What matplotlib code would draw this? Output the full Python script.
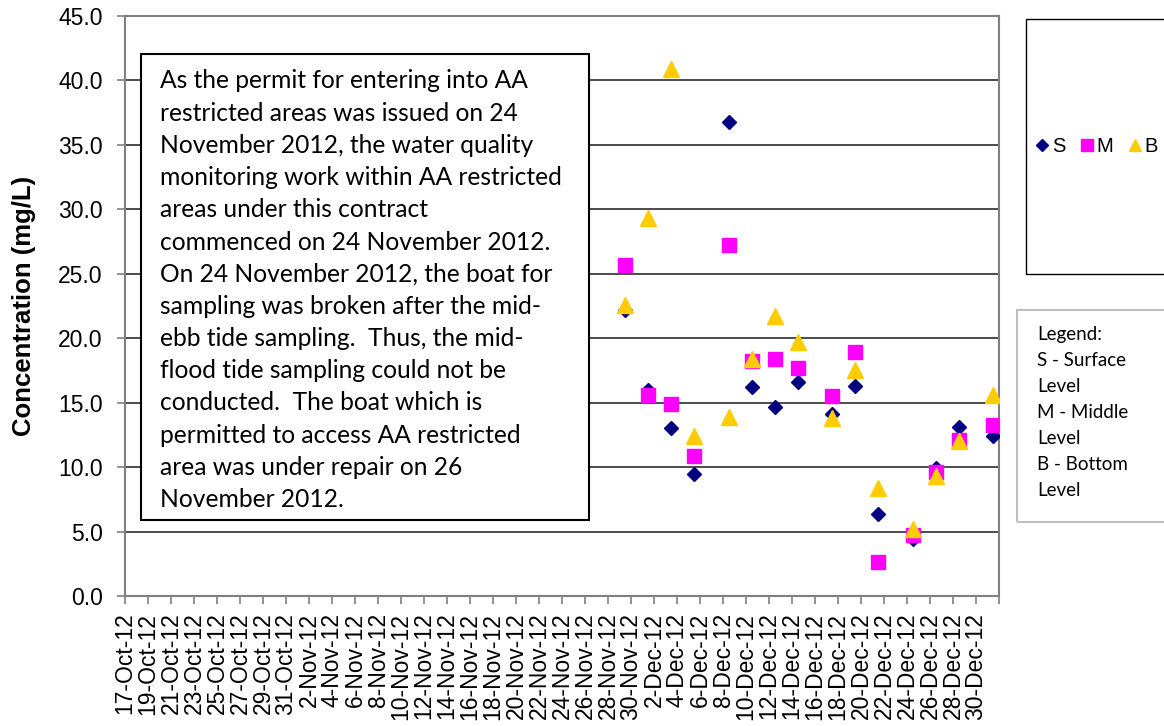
import matplotlib
matplotlib.use("Agg")
import matplotlib.pyplot as plt
from matplotlib.patches import Rectangle
import pandas as pd

# sampling dates and readings at each depth (mg/L)
sample_dates = ["2012-11-29", "2012-12-01", "2012-12-03", "2012-12-05",
                "2012-12-08", "2012-12-10", "2012-12-12", "2012-12-14",
                "2012-12-17", "2012-12-19", "2012-12-21", "2012-12-24",
                "2012-12-26", "2012-12-28", "2012-12-31"]
surface = [22.2, 16.0, 13.0, 9.5, 36.8, 16.2, 14.7, 16.6,
           14.1, 16.3, 6.4, 4.4, 9.9, 13.1, 12.4]
middle = [25.7, 15.6, 14.9, 10.9, 27.2, 18.2, 18.4, 17.7,
          15.5, 18.9, 2.6, 4.7, 9.6, 12.1, 13.3]
bottom = [22.6, 29.3, 40.9, 12.4, 13.9, 18.4, 21.7, 19.7,
          13.8, 17.5, 8.4, 5.2, 9.3, 12.0, 15.6]

y_ticks = [0, 5, 10, 15, 20, 25, 30, 35, 40, 45]

note_lines = [
    "As the permit for entering into AA",
    "restricted areas was issued on 24",
    "November 2012, the water quality",
    "monitoring work within AA restricted",
    "areas under this contract",
    "commenced on 24 November 2012.",
    "On 24 November 2012, the boat for",
    "sampling was broken after the mid-",
    "ebb tide sampling.  Thus, the mid-",
    "flood tide sampling could not be",
    "conducted.  The boat which is",
    "permitted to access AA restricted",
    "area was under repair on 26",
    "November 2012.",
]
key_lines = ["Legend:", "S - Surface", "Level", "M - Middle", "Level",
             "B - Bottom", "Level"]

W, H = 1164, 726
fig = plt.figure(figsize=(W / 100, H / 100), dpi=100)
ax = fig.add_axes([125 / W, 1 - 596 / H, (999 - 125) / W, (596 - 16) / H])

# points sit in the middle of each day slot
x = pd.to_datetime(sample_dates) + pd.Timedelta(hours=12)
ax.plot(x, surface, ls="none", marker="D", ms=7.2, color="#000080", label="S", zorder=3)
ax.plot(x, middle, ls="none", marker="s", ms=10.5, color="#FF00FF", label="M", zorder=4)
ax.plot(x, bottom, ls="none", marker="^", ms=11, color="#FFCC00", label="B", zorder=5)

ticks = pd.date_range("2012-10-17", "2013-01-01", freq="2D")
labels = [f"{d.day}-{d.strftime('%b-%y')}" for d in ticks]
labels[-1] = ""
ax.set_xlim(ticks[0], ticks[-1])
ax.set_xticks(ticks)
ax.set_xticklabels(labels, rotation=90, fontsize=16.5, family="Liberation Sans")

ax.set_ylim(0, 45)
ax.set_yticks(y_ticks)
ax.set_yticklabels([f"{v:.1f}" for v in y_ticks], fontsize=16.5, family="Liberation Sans")
ax.yaxis.grid(True, color="#2e2e2e", lw=1.2)
ax.set_axisbelow(True)
ax.tick_params(axis="both", direction="out", length=6, width=1.2, color="#808080")
ax.tick_params(axis="y", pad=10)
ax.tick_params(axis="x", pad=6)
for side in ["left", "right", "top", "bottom"]:
    ax.spines[side].set_color("#808080")
    ax.spines[side].set_linewidth(1.5)

ax.set_ylabel("Concentration (mg/L)", fontsize=18.5, fontweight="bold",
              family="Liberation Sans")
ax.yaxis.set_label_coords(-(125 - 36) / (999 - 125), 0.5)

# note box over the empty early period
ax.add_patch(Rectangle((141 / W, 1 - 520 / H), (589 - 141) / W, (520 - 54) / H,
                       transform=fig.transFigure, facecolor="white",
                       edgecolor="black", lw=1.5, zorder=10, clip_on=False))
for i, line in enumerate(note_lines):
    ax.text(160 / W, 1 - (88.5 + i * 32.2) / H, line, fontsize=17.7, family="Lato",
            va="baseline", ha="left", transform=fig.transFigure, zorder=11)

# series key box
fig.patches.append(Rectangle((1026 / W, 1 - 274 / H), 200 / W, (274 - 19) / H,
                             transform=fig.transFigure, fill=False,
                             edgecolor="black", lw=1.0))
fig.legend(loc="center left", bbox_to_anchor=(1037 / W, 1 - 147 / H), ncol=3,
           frameon=False, markerscale=0.8, handlelength=0.5, handletextpad=0.25,
           columnspacing=0.8, borderpad=0, borderaxespad=0,
           prop={"family": "Liberation Sans", "size": 14.5})

# level description box
fig.patches.append(Rectangle((1017 / W, 1 - 522 / H), 200 / W, (522 - 310) / H,
                             transform=fig.transFigure, fill=False,
                             edgecolor="#bfbfbf", lw=1.5))
for i, line in enumerate(key_lines):
    fig.text(1037 / W, 1 - (340 + i * 26) / H, line, fontsize=13.5, family="Lato",
             va="baseline", ha="left")

fig.savefig("out.png", dpi=100)
